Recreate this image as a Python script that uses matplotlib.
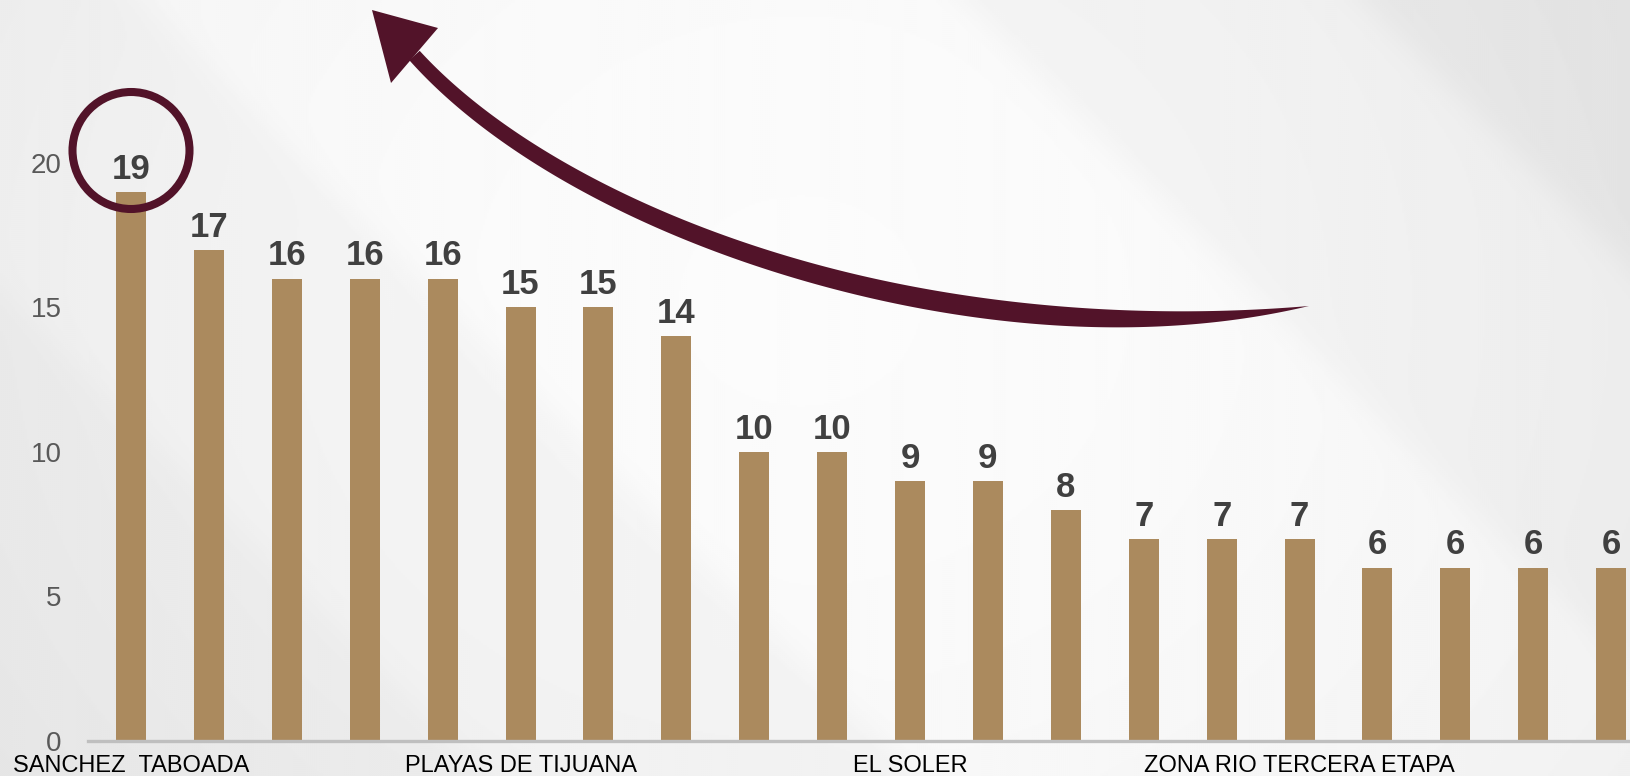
import numpy as np
import matplotlib.pyplot as plt
from matplotlib.patches import Circle, Polygon

plt.rcParams['font.family'] = ['Liberation Sans', 'DejaVu Sans']

W, H = 1631, 776  # tamaño de la imagen en pixeles

# Datos del gráfico
valores = [19, 17, 16, 16, 16, 15, 15, 14, 10, 10, 9, 9, 8, 7, 7, 7, 6, 6, 6, 6]
posiciones_etiqueta = [0, 5, 10, 15]
nombres_colonia = ['SANCHEZ  TABOADA', 'PLAYAS DE TIJUANA', 'EL SOLER', 'ZONA RIO TERCERA ETAPA']
marcas_y = [0, 5, 10, 15, 20]

COLOR_BARRA = '#ab8a5e'
COLOR_GUINDA = '#521329'


def escalon(v, v0, ancho=10.0):
    return 1.0 / (1.0 + np.exp(-(v - v0) / ancho))


# Fondo gris claro con franjas diagonales
def dibujar_fondo(ax):
    yy, xx = np.mgrid[0:H:2, 0:W:2].astype(float)
    v = xx - yy
    L = 0.985 - 0.03 * ((xx - 800) / 850) ** 2 - 0.02 * ((yy - 300) / 600) ** 2
    L -= 0.025 * (1 - escalon(v, 140, 12))
    L -= 0.02 * (1 - escalon(v, -290, 12))
    L -= 0.028 * escalon(v, 964, 12)
    L -= 0.035 * escalon(v, 1364, 12)
    ax.imshow(L, cmap='gray', vmin=0, vmax=1, extent=(0, W, H, 0),
              aspect='auto', interpolation='bilinear')
    ax.set_xlim(0, W)
    ax.set_ylim(H, 0)
    ax.axis('off')


# Flecha curva que apunta hacia arriba a la izquierda
def dibujar_flecha(ax):
    P0 = np.array([414.5, 55.5])
    P1 = np.array([570.0, 228.0])
    P2 = np.array([959.0, 362.0])
    P3 = np.array([1309.0, 306.0])
    t = np.linspace(0, 1, 300)[:, None]
    curva = ((1 - t) ** 3) * P0 + 3 * ((1 - t) ** 2) * t * P1 + 3 * (1 - t) * t ** 2 * P2 + t ** 3 * P3
    deriv = 3 * ((1 - t) ** 2) * (P1 - P0) + 6 * (1 - t) * t * (P2 - P1) + 3 * t ** 2 * (P3 - P2)
    normal = np.column_stack([-deriv[:, 1], deriv[:, 0]])
    normal /= np.linalg.norm(normal, axis=1)[:, None]
    tt = t[:, 0]
    ancho = (14 + 10 * tt) * (1 - np.clip((tt - 0.55) / 0.45, 0, 1) ** 3)
    izq = curva + normal * ancho[:, None] / 2
    der = curva - normal * ancho[:, None] / 2
    ax.add_patch(Polygon(np.vstack([izq, der[::-1]]), closed=True,
                         facecolor=COLOR_GUINDA, edgecolor='none'))
    ax.add_patch(Polygon([(372, 10), (438, 28), (391, 83)], closed=True,
                         facecolor=COLOR_GUINDA, edgecolor='none'))


fig = plt.figure(figsize=(W / 100, H / 100), dpi=100)

ax_fondo = fig.add_axes([0, 0, 1, 1], zorder=0)
dibujar_fondo(ax_fondo)

ax = fig.add_axes([88 / W, 35 / H, 1 - 88 / W, 741 / H], zorder=1)
ax.patch.set_alpha(0)

x = np.arange(len(valores))
ax.bar(x, valores, width=0.385, color=COLOR_BARRA, zorder=2)
ax.set_xlim(-0.552, 19.255)
ax.set_ylim(0, 741 / 28.9)

for lado in ['top', 'right', 'left']:
    ax.spines[lado].set_visible(False)
ax.spines['bottom'].set_color('#bfbfbf')
ax.spines['bottom'].set_linewidth(2.4)

ax.set_yticks(marcas_y)
ax.tick_params(axis='y', length=0, pad=19, labelsize=20, labelcolor='#595959')
ax.set_xticks(posiciones_etiqueta, nombres_colonia)
ax.tick_params(axis='x', length=0, pad=10, labelsize=17, labelcolor='black')

# Etiquetas con el valor de cada barra
for xi, v in zip(x, valores):
    ax.annotate(str(v), (xi, v), xytext=(0, 9.5), textcoords='offset points',
                ha='center', va='baseline', fontsize=25, fontweight='bold',
                color='#404040')

# Capa de adornos: círculo y flecha
ax_deco = fig.add_axes([0, 0, 1, 1], zorder=3)
ax_deco.set_xlim(0, W)
ax_deco.set_ylim(H, 0)
ax_deco.axis('off')
ax_deco.patch.set_alpha(0)
ax_deco.add_patch(Circle((131, 150.5), 58.5, fill=False, edgecolor=COLOR_GUINDA, linewidth=5.8))
dibujar_flecha(ax_deco)

fig.savefig('out.png', dpi=100)
